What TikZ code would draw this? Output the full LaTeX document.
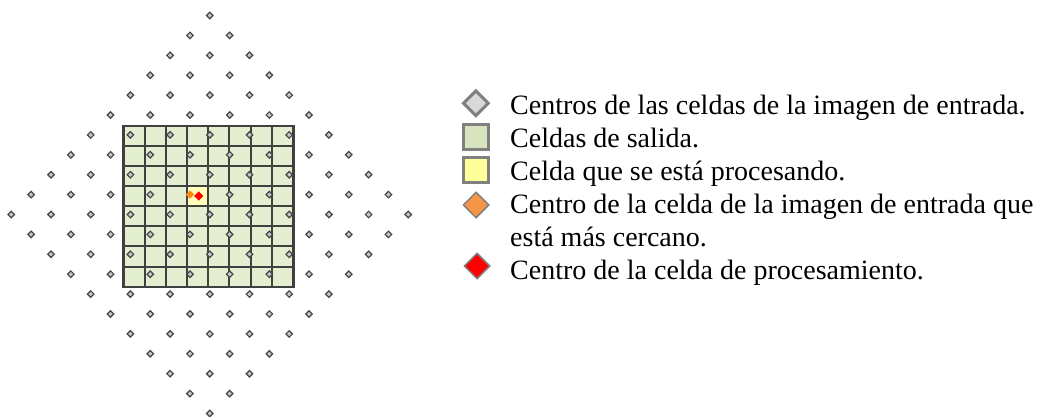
\documentclass[tikz,border=0pt]{standalone}
\usepackage{fontspec}
\setmainfont{Liberation Serif}
\usetikzlibrary{shapes.geometric}
\definecolor{cellgreen}{RGB}{227,239,208}
\definecolor{cellyellow}{RGB}{255,255,185}
\definecolor{gridline}{RGB}{64,64,64}
\definecolor{dotfill}{RGB}{200,200,200}
\definecolor{dotline}{RGB}{70,70,70}
\definecolor{legline}{RGB}{128,128,128}
\definecolor{legdiam}{RGB}{217,217,217}
\definecolor{leggreen}{RGB}{215,228,189}
\definecolor{legyellow}{RGB}{255,255,153}
\definecolor{legorange}{RGB}{247,150,70}
\definecolor{nearorange}{RGB}{250,140,20}
\tikzset{
  cell/.style={rectangle, inner sep=0pt, minimum width=21.2pt, minimum height=20.1pt, fill=cellgreen},
  gridstroke/.style={draw=gridline, line width=2pt},
  dot/.style={diamond, shape aspect=1, inner sep=0pt, minimum size=7pt, fill=dotfill, draw=dotline, line width=1.2pt},
  legmark/.style={inner sep=0pt, line width=3pt, draw=legline},
  legtext/.style={anchor=base west, inner sep=0pt, font=\fontsize{28}{33}\selectfont, align=left}
}
\begin{document}
\begin{tikzpicture}[x=1pt,y=-1pt]
\useasboundingbox (0,0) rectangle (1040,417);
\fill[white] (0,0) rectangle (1040,417);
% output cells
\foreach \c in {0,...,7}{
  \foreach \r in {0,...,7}{
    \node[cell] (cell\c_\r) at (123.5+10.6+21.2*\c, 126+10.05+20.1*\r) {};
  }
}
\node[cell, fill=cellyellow] (proc) at (123.5+10.6+21.2*3, 126+10.05+20.1*3) {};
\foreach \k in {0,...,7}{
  \draw[gridstroke] (cell\k_0.north west) -- (cell\k_7.south west);
  \draw[gridstroke] (cell0_\k.north west) -- (cell7_\k.north east);
}
\draw[gridstroke, line width=2.4pt] (cell0_0.north west) rectangle (cell7_7.south east);
% input cell centres
\foreach \j in {-10,...,10}{
  \foreach \i in {-10,...,10}{
    \pgfmathtruncatemacro{\s}{abs(\i)+abs(\j)}
    \pgfmathtruncatemacro{\p}{mod(abs(\i+\j),2)}
    \pgfmathtruncatemacro{\q}{(\i==-1)&&(\j==-1)}
    \ifnum\s<11 \ifnum\p=0 \ifnum\q=0
      \node[dot] (d\i_\j) at (209.8+19.85*\i, 214.5+19.9*\j) {};
    \fi\fi\fi
  }
}
\node[diamond, shape aspect=1, inner sep=0pt, minimum size=8.5pt, fill=nearorange] (near) at (189.95,194.6) {};
\node[diamond, shape aspect=1, inner sep=0pt, minimum size=9.5pt, fill=red] (pcentre) at (198.7,196) {};
% legend
\node[legmark, diamond, shape aspect=1, minimum size=26pt, fill=legdiam] (l1) at (475.8,103.3) {};
\node[legmark, rectangle, minimum size=25pt, fill=leggreen] (l2) at (476.2,136.7) {};
\node[legmark, rectangle, minimum size=25pt, fill=legyellow] (l3) at (476.2,170) {};
\node[diamond, shape aspect=1, inner sep=0pt, minimum size=26pt, fill=legorange, draw=legline, line width=1.5pt] (l4) at (476,205) {};
\node[diamond, shape aspect=1, inner sep=0pt, minimum size=26pt, fill=red, draw=legline, line width=1.5pt] (l5) at (477,266) {};
\node[legtext] (t1) at (510,114) {Centros de las celdas de la imagen de entrada.};
\node[legtext] (t2) at (510,147) {Celdas de salida.};
\node[legtext] (t3) at (510,180) {Celda que se está procesando.};
\node[legtext] (t4) at (510,213) {Centro de la celda de la imagen de entrada que};
\node[legtext] (t5) at (510,246) {está más cercano.};
\node[legtext] (t6) at (510,279) {Centro de la celda de procesamiento.};
\end{tikzpicture}
\end{document}
